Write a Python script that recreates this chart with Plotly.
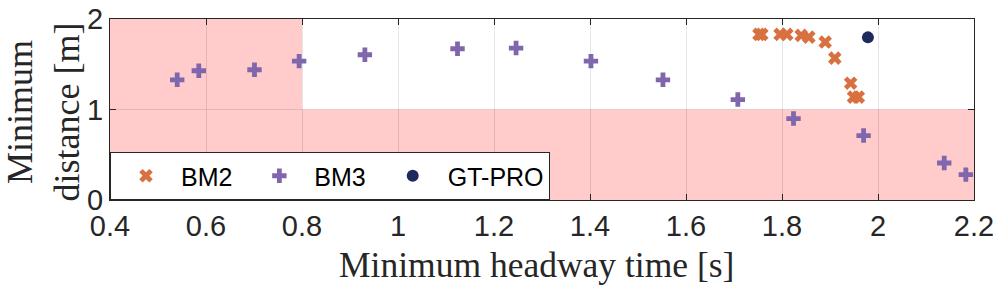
import plotly.graph_objects as go

# Data
bm2_x = [1.752, 1.758, 1.796, 1.810, 1.840, 1.856, 1.890, 1.910, 1.943, 1.949, 1.959]
bm2_y = [1.830, 1.830, 1.830, 1.830, 1.819, 1.800, 1.745, 1.568, 1.291, 1.137, 1.137]

bm3_x = [0.540, 0.585, 0.701, 0.794, 0.931, 1.124, 1.246, 1.402, 1.552, 1.708, 1.824, 1.970, 2.138, 2.183]
bm3_y = [1.328, 1.428, 1.439, 1.535, 1.605, 1.671, 1.679, 1.535, 1.328, 1.110, 0.900, 0.712, 0.409, 0.280]

gt_x = [1.979]
gt_y = [1.797]

x_ticks = [0.4, 0.6, 0.8, 1.0, 1.2, 1.4, 1.6, 1.8, 2.0, 2.2]
x_tick_labels = ["0.4", "0.6", "0.8", "1", "1.2", "1.4", "1.6", "1.8", "2", "2.2"]
y_ticks = [0, 1, 2]

# Unsafe regions
region_x_limit = 0.8
region_y_limit = 1.0

fig = go.Figure()
fig.add_trace(go.Scatter(x=bm2_x, y=bm2_y, mode="markers", name="BM2\u00a0",
                         marker=dict(symbol="x", size=12, color="#D9703F", line=dict(width=0))))
fig.add_trace(go.Scatter(x=bm3_x, y=bm3_y, mode="markers", name="BM3\u00a0",
                         marker=dict(symbol="cross", size=12, color="#8066AC", line=dict(width=0))))
fig.add_trace(go.Scatter(x=gt_x, y=gt_y, mode="markers", name="GT-PRO",
                         marker=dict(symbol="circle", size=12, color="#1F2A5C", line=dict(width=0))))

pink = "#FFCBCB"
fig.add_shape(type="rect", xref="x", yref="y", x0=0.4, x1=region_x_limit, y0=0, y1=2,
              fillcolor=pink, line=dict(width=0), layer="below")
fig.add_shape(type="rect", xref="x", yref="y", x0=region_x_limit, x1=2.2, y0=0, y1=region_y_limit,
              fillcolor=pink, line=dict(width=0), layer="below")

axis_common = dict(
    showline=True, linecolor="#262626", linewidth=1, mirror="ticks",
    ticks="inside", ticklen=6, tickcolor="#262626",
    showgrid=True, gridcolor="rgba(0,0,0,0.10)", gridwidth=1,
    zeroline=False, automargin=False,
    tickfont=dict(family="Liberation Sans, Arial", size=29, color="#262626"),
)

fig.update_xaxes(range=[0.4, 2.2], tickvals=x_ticks, ticktext=x_tick_labels, **axis_common)
fig.update_yaxes(range=[0, 2], tickvals=y_ticks, **axis_common)

serif = "Liberation Serif, Times New Roman"
fig.add_annotation(text="Minimum headway time [s]", xref="paper", yref="paper",
                   x=0.494, y=-0.36, xanchor="center", yanchor="middle", showarrow=False,
                   font=dict(family=serif, size=35.5, color="#262626"))
fig.add_annotation(text="Minimum<br>distance [m]", xref="paper", yref="paper",
                   x=-0.077, y=0.486, xanchor="center", yanchor="middle", showarrow=False,
                   textangle=-90, font=dict(family=serif, size=36, color="#262626"))

fig.update_layout(
    width=997, height=293,
    margin=dict(l=110, r=23, t=19, b=93),
    paper_bgcolor="white", plot_bgcolor="white",
    showlegend=True,
    legend=dict(orientation="h", x=0, y=0, xanchor="left", yanchor="bottom",
                bgcolor="white", bordercolor="#262626", borderwidth=1,
                font=dict(family="Liberation Sans, Arial", size=25, color="#000000"),
                itemwidth=60),
)

fig.write_html("out.html", config={"displayModeBar": False},
               post_script="document.body.style.margin='0px';")
